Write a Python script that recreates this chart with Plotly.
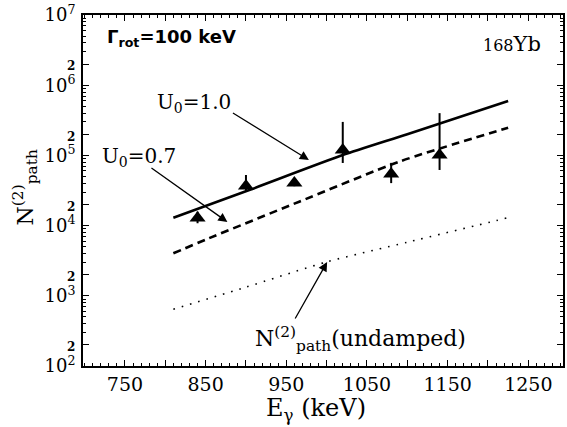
import plotly.graph_objects as go

# Measured N_path^(2) for 168Yb (E_gamma in keV)
e_gamma = [840, 900, 960, 1020, 1080, 1140]
n_path = [1.28e4, 3.66e4, 4.04e4, 1.19e5, 5.43e4, 1.01e5]
err_plus = [3.0e3, 1.6e4, 4.0e3, 1.81e5, 2.4e4, 2.99e5]
err_minus = [2.0e3, 6.5e3, 4.0e3, 4.1e4, 1.4e4, 3.9e4]

# Model curves
u0_10_e = [810, 905, 1020, 1100, 1225]
u0_10 = [1.29e4, 3.24e4, 1.01e5, 2.0e5, 5.96e5]
u0_07_e = [810, 851, 966, 1090, 1225]
u0_07 = [4.03e3, 6.38e3, 2.19e4, 8.15e4, 2.48e5]
undamped_e = [810, 900, 1000, 1100, 1210, 1225]
undamped = [643, 1330, 3040, 5800, 1.175e4, 1.30e4]

# Axis ticks
x_ticks = [750, 800, 850, 900, 950, 1000, 1050, 1100, 1150, 1200, 1250]
x_labels = ["750", "", "850", "", "950", "", "1050", "", "1150", "", "1250"]
decades = [2, 3, 4, 5, 6, 7]

SERIF = "DejaVu Serif"

y_vals, y_text = [], []
for d in decades:
    y_vals.append(10 ** d)
    y_text.append(f"10<sup>{d}</sup>")
    if d < 7:
        y_vals.append(2 * 10 ** d)
        y_text.append('<span style="font-size:12px;font-weight:bold">2</span>')

fig = go.Figure()

fig.add_trace(go.Scatter(x=u0_10_e, y=u0_10, mode="lines",
                         line=dict(color="black", width=2.6, shape="spline", smoothing=0.6),
                         showlegend=False))
fig.add_trace(go.Scatter(x=u0_07_e, y=u0_07, mode="lines",
                         line=dict(color="black", width=2.6, dash="8px,5px",
                                   shape="spline", smoothing=0.6),
                         showlegend=False))
fig.add_trace(go.Scatter(x=undamped_e, y=undamped, mode="lines",
                         line=dict(color="black", width=1.6, dash="1.6px,7px",
                                   shape="spline", smoothing=0.6),
                         showlegend=False))
fig.add_trace(go.Scatter(
    x=e_gamma, y=n_path, mode="markers",
    marker=dict(symbol="triangle-up", size=14, color="black"),
    error_y=dict(type="data", symmetric=False, array=err_plus, arrayminus=err_minus,
                 color="black", thickness=2, width=0),
    showlegend=False))

ann_font = dict(family=SERIF, size=20, color="black")

# Curve labels (y given as log10 on the log axis)
fig.add_annotation(x=836, y=5.746, text="U<sub>0</sub>=1.0", showarrow=False, font=ann_font)
fig.add_annotation(x=768, y=4.977, text="U<sub>0</sub>=0.7", showarrow=False, font=ann_font)
fig.add_annotation(x=1042, y=2.385,
                   text="N<sup>(2)</sup><sub>path</sub>(undamped)",
                   showarrow=False, font=dict(family=SERIF, size=22, color="black"))

# Arrows
for tail, head in [((882, 5.618), (978, 4.934)),
                   ((781, 4.835), (877, 4.051)),
                   ((960, 2.655), (1000.6, 3.481))]:
    fig.add_annotation(x=head[0], y=head[1], ax=tail[0], ay=tail[1],
                       xref="x", yref="y", axref="x", ayref="y", text="",
                       showarrow=True, arrowhead=2, arrowsize=1.4, arrowwidth=1.3,
                       arrowcolor="black")

fig.add_annotation(xref="paper", yref="paper", x=0.046, y=0.934,
                   xanchor="left", yanchor="middle",
                   text="<b>Γ<sub>rot</sub>=100 keV</b>", showarrow=False,
                   font=dict(family="DejaVu Sans", size=18, color="black"))
fig.add_annotation(xref="paper", yref="paper", x=0.958, y=0.917,
                   xanchor="right", yanchor="middle",
                   text='<span style="font-size:16px">168</span>Yb', showarrow=False,
                   font=dict(family=SERIF, size=21, color="black"))

# Axis titles
fig.add_annotation(xref="paper", yref="paper", x=-0.12, y=0.51,
                   xanchor="center", yanchor="middle", textangle=-90,
                   text="N<sup>(2)</sup><sub>path</sub>", showarrow=False,
                   font=dict(family=SERIF, size=22, color="black"))
fig.add_annotation(xref="paper", yref="paper", x=0.485, y=-0.125,
                   xanchor="center", yanchor="middle",
                   text="E<sub>γ</sub> (keV)", showarrow=False,
                   font=dict(family=SERIF, size=24, color="black"))

fig.update_xaxes(range=[698, 1293], tickmode="array", tickvals=x_ticks, ticktext=x_labels,
                 ticks="inside", ticklen=6, tickwidth=1, tickcolor="black",
                 showline=True, linecolor="black", linewidth=2, mirror="ticks",
                 showgrid=False, zeroline=False,
                 tickfont=dict(family=SERIF, size=19, color="black"),
                 minor=dict(ticks="inside", ticklen=3, dtick=10, tickcolor="black", showgrid=False))
fig.update_yaxes(type="log", range=[2, 7], tickmode="array", tickvals=y_vals, ticktext=y_text,
                 ticks="inside", ticklen=6, tickwidth=1, tickcolor="black",
                 showline=True, linecolor="black", linewidth=2, mirror="ticks",
                 showgrid=False, zeroline=False, ticklabelstandoff=2,
                 tickfont=dict(family=SERIF, size=18, color="black"),
                 minor=dict(ticks="inside", ticklen=3, dtick="D1", tickcolor="black", showgrid=False))

fig.update_layout(width=567, height=427, margin=dict(l=83, r=2, t=15, b=61),
                  plot_bgcolor="white", paper_bgcolor="white")

fig.write_html("out.html")
